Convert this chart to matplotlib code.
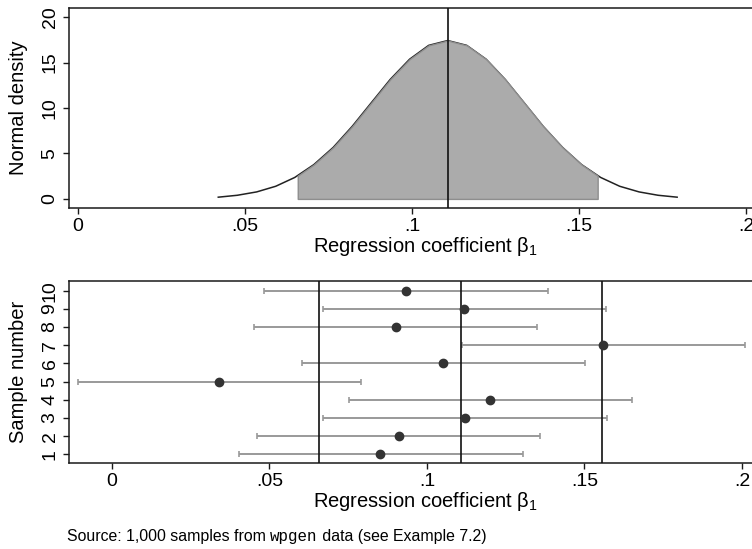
import matplotlib
matplotlib.use('Agg')
import matplotlib.pyplot as plt

plt.rcParams['font.family'] = ['Liberation Sans', 'DejaVu Sans']
plt.rcParams['mathtext.fontset'] = 'custom'
plt.rcParams['mathtext.rm'] = 'Liberation Sans'
plt.rcParams['mathtext.it'] = 'Liberation Sans:italic'

# normal density of the estimator (mean +/- 3 sd)
curve_x = [0.0420, 0.0477, 0.0535, 0.0592, 0.0649, 0.0706, 0.0764, 0.0821,
           0.0878, 0.0935, 0.0993, 0.1050, 0.1107, 0.1164, 0.1222, 0.1279,
           0.1336, 0.1393, 0.1451, 0.1508, 0.1565, 0.1622, 0.1680, 0.1737,
           0.1794]
curve_y = [0.19, 0.40, 0.77, 1.39, 2.36, 3.77, 5.66, 7.98, 10.57, 13.15,
           15.37, 16.89, 17.42, 16.89, 15.37, 13.15, 10.57, 7.98, 5.66, 3.77,
           2.36, 1.39, 0.77, 0.40, 0.19]
mean_b = 0.1107
band_lo, band_hi = 0.0658, 0.1556
band_dens = 2.55

# ten sample estimates with 95% intervals
samples = [1, 2, 3, 4, 5, 6, 7, 8, 9, 10]
est = [0.0852, 0.0910, 0.1122, 0.1201, 0.0340, 0.1052, 0.1560, 0.0902,
       0.1119, 0.0933]
ci_lo = [0.0403, 0.0461, 0.0671, 0.0751, -0.0109, 0.0602, 0.1111, 0.0452,
         0.0671, 0.0484]
ci_hi = [0.1304, 0.1360, 0.1571, 0.1651, 0.0791, 0.1502, 0.2010, 0.1350,
         0.1568, 0.1383]

x_ticks = [0, 0.05, 0.1, 0.15, 0.2]
x_labels = ['0', '.05', '.1', '.15', '.2']
dens_ticks = [0, 5, 10, 15, 20]

FS = 14
LFS = 14.5
SPINE = '#1a1a1a'


def style_axes(ax):
    for s in ax.spines.values():
        s.set_linewidth(1.1)
        s.set_color(SPINE)
    ax.tick_params(direction='out', length=4.5, width=1, color=SPINE,
                   labelsize=FS, pad=3)
    ax.tick_params(axis='y', labelrotation=90)
    for lab in ax.get_yticklabels():
        lab.set_va('center')
    ax.set_xticks(x_ticks)
    ax.set_xticklabels(x_labels)


fig = plt.figure(figsize=(7.52, 5.49), dpi=100)

# top panel: sampling distribution
ax1 = fig.add_axes([69 / 752, 1 - 208 / 549, 712 / 752, 200 / 549])
ax1.plot(curve_x, curve_y, color='#222222', lw=1.1, zorder=2)
shade_x = [band_lo] + [x for x in curve_x if band_lo < x < band_hi] + [band_hi]
shade_y = [band_dens] + [y for x, y in zip(curve_x, curve_y)
                         if band_lo < x < band_hi] + [band_dens]
ax1.fill_between(shade_x, 0, shade_y, facecolor='#ababab',
                 edgecolor='#8e8e8e', lw=1.0, zorder=3)
ax1.axvline(mean_b, color='#111111', lw=1.2, zorder=4)
ax1.set_xlim(-0.0027, 0.2105)
ax1.set_ylim(-1, 21)
ax1.set_yticks(dens_ticks)
style_axes(ax1)
ax1.set_ylabel('Normal density', fontsize=LFS, labelpad=10)
ax1.set_xlabel('Regression coefficient β$_1$', fontsize=LFS, labelpad=0)

# bottom panel: sample intervals
ax2 = fig.add_axes([69 / 752, 1 - 463 / 549, 712 / 752, 182 / 549])
xerr = [[e - l for e, l in zip(est, ci_lo)], [h - e for e, h in zip(est, ci_hi)]]
ax2.errorbar(est, samples, xerr=xerr, fmt='none', ecolor='#999999',
             elinewidth=1.4, capsize=2.5, capthick=1.2, zorder=2)
for v in (band_lo, mean_b, band_hi):
    ax2.axvline(v, color='#111111', lw=1.2, zorder=3)
ax2.plot(est, samples, 'o', color='#333333', ms=6, zorder=4)
ax2.set_xlim(-0.01365, 0.2124)
ax2.set_ylim(0.52, 10.53)
ax2.set_yticks(samples)
style_axes(ax2)
ax2.set_ylabel('Sample number', fontsize=LFS, labelpad=10)
ax2.set_xlabel('Regression coefficient β$_1$', fontsize=LFS, labelpad=0)

# source note with monospace dataset name
t1 = fig.text(67 / 752, 1 - 541 / 549, 'Source: 1,000 samples from ',
              fontsize=11.4, va='baseline')
t2 = ax2.annotate('wpgen', xy=(1, 0), xycoords=t1, va='bottom', ha='left',
                  fontsize=11.4, family='Liberation Mono')
ax2.annotate(' data (see Example 7.2)', xy=(1, 0), xycoords=t2, va='bottom',
             ha='left', fontsize=11.4)

fig.savefig('out.png', dpi=100)
